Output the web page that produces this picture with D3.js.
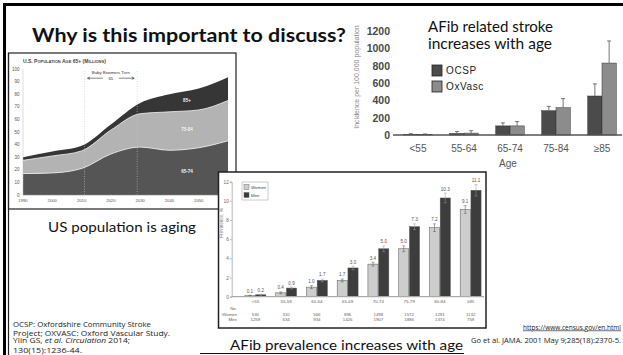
<!DOCTYPE html>
<html>
<head>
<meta charset="utf-8">
<script src="https://cdn.jsdelivr.net/npm/d3@7"></script>
<style>
  body { margin: 0; background: #fff; }
  svg { display: block; }
</style>
</head>
<body>
<svg id="slide" width="623" height="355"></svg>
<script>
// ---- US population 65+ (millions), stacked by age band ----
const popYears = [1990, 2000, 2010, 2020, 2030, 2040, 2050, 2060];
const pop65to74 = [17, 17.5, 21, 32.5, 38, 35.5, 37.5, 43];
const pop75to84 = [10.5, 13.5, 14, 19, 26.5, 30.5, 30, 32];
const pop85plus = [2.5, 3.5, 4, 4.5, 8.5, 14, 17, 18.5];
const popValueTicks = [0, 10, 20, 30, 40, 50, 60, 70, 80, 90, 100];
const popYearTicks = [1990, 2000, 2010, 2020, 2030, 2040, 2050];
const popBandLabels = ["65-74", "75-84", "85+"];

// ---- AF-related stroke incidence per 100,000 ----
const strokeAges = ["<55", "55-64", "65-74", "75-84", "\u226585"];
const ocspIncidence = [8, 18, 105, 280, 450];
const ocspUpper = [15, 40, 140, 330, 590];
const oxvascIncidence = [5, 22, 105, 315, 830];
const oxvascUpper = [12, 50, 155, 420, 1085];
const strokeTicks = [0, 200, 400, 600, 800, 1000, 1200];
const strokeSeries = ["OCSP", "OxVasc"];

// ---- AF prevalence (%) by age and sex ----
const afAges = ["<55", "55-59", "60-64", "65-69", "70-74", "75-79", "80-84", "\u226585"];
const womenPrev = [0.1, 0.4, 1.0, 1.7, 3.4, 5.0, 7.2, 9.1];
const menPrev = [0.2, 0.9, 1.7, 3.0, 5.0, 7.3, 10.3, 11.1];
const womenErr = [0.05, 0.1, 0.15, 0.15, 0.2, 0.3, 0.4, 0.4];
const menErr = [0.05, 0.1, 0.15, 0.2, 0.3, 0.3, 0.5, 0.6];
const womenN = [530, 310, 566, 896, 1498, 1572, 1291, 1132];
const menN = [1259, 634, 934, 1426, 1907, 1886, 1374, 759];
const prevTicks = [0, 2, 4, 6, 8, 10, 12];
const prevSeries = ["Women", "Men"];

const svg = d3.select("#slide");
const SLIDE_FONT = "Lato, 'Open Sans', sans-serif";
const SMALL_FONT = "'Liberation Sans', Arial, sans-serif";

// ---------- slide frame ----------
svg.append("line").attr("x1", 3).attr("x2", 623).attr("y1", 4.5).attr("y2", 4.5)
  .attr("stroke", "#000").attr("stroke-width", 3);
svg.append("line").attr("x1", 4.5).attr("x2", 4.5).attr("y1", 3).attr("y2", 355)
  .attr("stroke", "#000").attr("stroke-width", 3);

svg.append("text").attr("x", 32).attr("y", 42)
  .attr("font-family", SLIDE_FONT).attr("font-weight", 700).attr("font-size", 18.5)
  .attr("textLength", 314).attr("lengthAdjust", "spacingAndGlyphs")
  .attr("fill", "#111").text("Why is this important to discuss?");

// ---------- population chart ----------
const pop = svg.append("g");
svg.append("line").attr("x1", 8.5).attr("x2", 8.5).attr("y1", 53).attr("y2", 355)
  .attr("stroke", "#222").attr("stroke-width", 1.2);
pop.append("rect").attr("x", 8.5).attr("y", 53).attr("width", 227.5).attr("height", 156)
  .attr("fill", "#fff").attr("stroke", "#222").attr("stroke-width", 1.2);

const px = d3.scaleLinear().domain([1990, 2060]).range([23, 228]);
const py = d3.scaleLinear().domain([0, 100]).range([195, 69]);

const popRows = popYears.map((year, i) => ({
  year, a: pop65to74[i], b: pop75to84[i], c: pop85plus[i]
}));
const stacked = d3.stack().keys(["a", "b", "c"])(popRows);
const popColors = ["#555555", "#b3b3b3", "#363636"];
const area = d3.area()
  .x(d => px(d.data.year)).y0(d => py(d[0])).y1(d => py(d[1]))
  .curve(d3.curveMonotoneX);
pop.selectAll("path.band").data(stacked).join("path")
  .attr("class", "band").attr("d", area)
  .attr("fill", (d, i) => popColors[i]);
const edge = d3.line().x(d => px(d.data.year)).y(d => py(d[1])).curve(d3.curveMonotoneX);
pop.selectAll("path.edge").data(stacked.slice(0, 2)).join("path")
  .attr("class", "edge").attr("d", edge)
  .attr("fill", "none").attr("stroke", "#eee").attr("stroke-width", 0.8);

// axes
pop.append("line").attr("x1", px(1990)).attr("x2", px(2060)).attr("y1", py(0)).attr("y2", py(0))
  .attr("stroke", "#888").attr("stroke-width", 0.6);
pop.append("line").attr("x1", px(1990)).attr("x2", px(1990)).attr("y1", py(0)).attr("y2", py(100))
  .attr("stroke", "#bbb").attr("stroke-width", 0.5);
pop.selectAll("text.ytick").data(popValueTicks).join("text")
  .attr("class", "ytick").attr("x", 19.5).attr("y", d => py(d) + 1.5)
  .attr("text-anchor", "end").attr("font-family", SMALL_FONT).attr("font-size", 4.5)
  .attr("fill", "#555").text(d => d);
pop.selectAll("text.xtick").data(popYearTicks).join("text")
  .attr("class", "xtick").attr("x", d => px(d)).attr("y", 201.5)
  .attr("text-anchor", "middle").attr("font-family", SMALL_FONT).attr("font-size", 4.2)
  .attr("fill", "#555").text(d => d);

// boomer window
[2011, 2029].forEach(yr => {
  pop.append("line").attr("x1", px(yr)).attr("x2", px(yr)).attr("y1", 71).attr("y2", py(0))
    .attr("stroke", "#c8c8c8").attr("stroke-width", 0.6).attr("stroke-dasharray", "1,1.5");
});
const midX = (px(2011) + px(2029)) / 2;
pop.append("text").attr("x", midX).attr("y", 73.5).attr("text-anchor", "middle")
  .attr("font-family", SMALL_FONT).attr("font-size", 4.3).attr("fill", "#333")
  .text("Baby Boomers Turn");
pop.append("text").attr("x", midX).attr("y", 80).attr("text-anchor", "middle")
  .attr("font-family", SMALL_FONT).attr("font-size", 4.3).attr("fill", "#333").text("65");
const arrowY = 78.2;
pop.append("path")
  .attr("d", `M${midX - 8},${arrowY}H${px(2011) + 3}M${px(2011) + 5.5},${arrowY - 1.3}L${px(2011) + 3},${arrowY}L${px(2011) + 5.5},${arrowY + 1.3}`)
  .attr("fill", "none").attr("stroke", "#333").attr("stroke-width", 0.6);
pop.append("path")
  .attr("d", `M${midX + 8},${arrowY}H${px(2029) - 3}M${px(2029) - 5.5},${arrowY - 1.3}L${px(2029) - 3},${arrowY}L${px(2029) - 5.5},${arrowY + 1.3}`)
  .attr("fill", "none").attr("stroke", "#333").attr("stroke-width", 0.6);

// band labels placed at mid-band, 2046
const labelYear = 2046;
const li = popYears.findIndex(y => y > labelYear) - 1;
const t = (labelYear - popYears[li]) / (popYears[li + 1] - popYears[li]);
stacked.forEach((s, i) => {
  const lo = s[li][0] + (s[li + 1][0] - s[li][0]) * t;
  const hi = s[li][1] + (s[li + 1][1] - s[li][1]) * t;
  pop.append("text").attr("x", px(labelYear)).attr("y", py((lo + hi) / 2) + 1.6)
    .attr("text-anchor", "middle").attr("font-family", SMALL_FONT).attr("font-size", 4.6)
    .attr("font-weight", 700).attr("fill", "#f2f2f2").text(popBandLabels[i]);
});

pop.append("text").attr("x", 23).attr("y", 62.5)
  .attr("font-family", SMALL_FONT).attr("font-size", 5).attr("font-weight", 700)
  .attr("font-variant", "small-caps").attr("fill", "#444")
  .text("U.S. Population Age 65+ (Millions)");

svg.append("text").attr("x", 48).attr("y", 232)
  .attr("font-family", SLIDE_FONT).attr("font-size", 14)
  .attr("textLength", 148).attr("lengthAdjust", "spacingAndGlyphs")
  .attr("fill", "#111").text("US population is aging");

// ---------- stroke incidence chart ----------
const st = svg.append("g");
const sx = d3.scaleBand().domain(strokeAges).range([395, 625]).paddingInner(0.38).paddingOuter(0.19);
const sxs = d3.scaleBand().domain(strokeSeries).range([0, sx.bandwidth()]).padding(0);
const sy = d3.scaleLinear().domain([0, 1200]).range([135, 31]);
const strokeColors = { OCSP: "#4b4b4b", OxVasc: "#8c8c8c" };
const strokeRows = strokeAges.map((age, i) => ({
  age,
  vals: [
    { key: "OCSP", v: ocspIncidence[i], hi: ocspUpper[i] },
    { key: "OxVasc", v: oxvascIncidence[i], hi: oxvascUpper[i] }
  ]
}));
const sg = st.selectAll("g.grp").data(strokeRows).join("g")
  .attr("transform", d => `translate(${sx(d.age)},0)`);
sg.selectAll("rect").data(d => d.vals).join("rect")
  .attr("x", d => sxs(d.key)).attr("width", sxs.bandwidth())
  .attr("y", d => sy(d.v)).attr("height", d => sy(0) - sy(d.v))
  .attr("fill", d => strokeColors[d.key]).attr("stroke", "#333").attr("stroke-width", 0.5);
sg.selectAll("path.err").data(d => d.vals).join("path")
  .attr("class", "err")
  .attr("d", d => {
    const cx = sxs(d.key) + sxs.bandwidth() / 2;
    return `M${cx},${sy(d.v)}V${sy(d.hi)}M${cx - 2},${sy(d.hi)}H${cx + 2}`;
  })
  .attr("fill", "none").attr("stroke", "#666").attr("stroke-width", 0.9);

st.append("line").attr("x1", 393).attr("x2", 622).attr("y1", sy(0)).attr("y2", sy(0))
  .attr("stroke", "#555").attr("stroke-width", 1.3);
const yAx = st.append("g").attr("transform", "translate(392,0)")
  .call(d3.axisLeft(sy).tickValues(strokeTicks).tickFormat(d3.format("d")).tickSize(0).tickPadding(2));
yAx.select(".domain").remove();
yAx.selectAll("text").attr("font-family", SMALL_FONT).attr("font-size", 10.5)
  .attr("font-weight", 700).attr("fill", "#4a4a4a");
const xAx = st.append("g").attr("transform", `translate(0,${sy(0)})`)
  .call(d3.axisBottom(sx).tickSize(0).tickPadding(10));
xAx.select(".domain").remove();
xAx.selectAll("text").attr("font-family", SMALL_FONT).attr("font-size", 10)
  .attr("fill", "#555");
st.append("text").attr("x", 508).attr("y", 167).attr("text-anchor", "middle")
  .attr("font-family", SMALL_FONT).attr("font-size", 10).attr("fill", "#555").text("Age");
st.append("text").attr("transform", "translate(359,77) rotate(-90)").attr("text-anchor", "middle")
  .attr("font-family", SMALL_FONT).attr("font-size", 7).attr("fill", "#888")
  .text("Incidence per 100,000 population");

st.append("text").attr("x", 428).attr("y", 31.5)
  .attr("font-family", SLIDE_FONT).attr("font-size", 15)
  .attr("textLength", 125).attr("lengthAdjust", "spacingAndGlyphs")
  .attr("fill", "#111").text("AFib related stroke");
st.append("text").attr("x", 428).attr("y", 49)
  .attr("font-family", SLIDE_FONT).attr("font-size", 15)
  .attr("textLength", 124).attr("lengthAdjust", "spacingAndGlyphs")
  .attr("fill", "#111").text("increases with age");

const sLeg = st.selectAll("g.leg").data(strokeSeries).join("g")
  .attr("transform", (d, i) => `translate(432,${65 + i * 16})`);
sLeg.append("rect").attr("width", 10).attr("height", 11)
  .attr("fill", d => strokeColors[d]).attr("stroke", "#222").attr("stroke-width", 0.8);
sLeg.append("text").attr("x", 14).attr("y", 9).attr("font-family", SMALL_FONT)
  .attr("font-size", 10).attr("letter-spacing", 0.6).attr("fill", "#222").text(d => d);

// ---------- AF prevalence chart ----------
const pv = svg.append("g");
pv.append("rect").attr("x", 218.5).attr("y", 172).attr("width", 267.5).attr("height", 156)
  .attr("fill", "#fff").attr("stroke", "#222").attr("stroke-width", 1.5);
const vx = d3.scaleBand().domain(afAges).range([240, 486]).paddingInner(0.32).paddingOuter(0.16);
const vxs = d3.scaleBand().domain(prevSeries).range([0, vx.bandwidth()]).paddingInner(0.06);
const vy = d3.scaleLinear().domain([0, 12]).range([296.7, 181.7]);
const prevColors = { Women: "#cdcdcd", Men: "#3d3d3d" };
const prevRows = afAges.map((age, i) => ({
  age,
  vals: [
    { key: "Women", v: womenPrev[i], e: womenErr[i] },
    { key: "Men", v: menPrev[i], e: menErr[i] }
  ]
}));

const vyAx = pv.append("g").attr("transform", "translate(231.7,0)")
  .call(d3.axisLeft(vy).tickValues(prevTicks).tickSize(1.8).tickPadding(1.2));
vyAx.select(".domain").attr("stroke", "#888").attr("stroke-width", 0.6);
vyAx.selectAll("line").attr("stroke", "#888").attr("stroke-width", 0.6);
vyAx.selectAll("text").attr("font-family", SMALL_FONT).attr("font-size", 4.6).attr("fill", "#666");
pv.append("text").attr("transform", "translate(222.5,223) rotate(-90)").attr("text-anchor", "middle")
  .attr("font-family", SMALL_FONT).attr("font-size", 4.6).attr("fill", "#777").text("Prevalence, %");

const vg = pv.selectAll("g.grp").data(prevRows).join("g")
  .attr("transform", d => `translate(${vx(d.age)},0)`);
vg.selectAll("rect").data(d => d.vals).join("rect")
  .attr("x", d => vxs(d.key)).attr("width", vxs.bandwidth())
  .attr("y", d => vy(d.v)).attr("height", d => vy(0) - vy(d.v))
  .attr("fill", d => prevColors[d.key]).attr("stroke", "#555").attr("stroke-width", 0.5);
vg.selectAll("path.err").data(d => d.vals).join("path")
  .attr("class", "err")
  .attr("d", d => {
    const cx = vxs(d.key) + vxs.bandwidth() / 2;
    return `M${cx},${vy(d.v - d.e)}V${vy(d.v + d.e)}M${cx - 1.5},${vy(d.v + d.e)}H${cx + 1.5}M${cx - 1.5},${vy(d.v - d.e)}H${cx + 1.5}`;
  })
  .attr("fill", "none").attr("stroke", d => d.key === "Men" ? "#999" : "#555").attr("stroke-width", 0.5);
vg.selectAll("text.val").data(d => d.vals).join("text")
  .attr("class", "val")
  .attr("x", d => vxs(d.key) + vxs.bandwidth() / 2).attr("y", d => vy(d.v + d.e) - 2.5)
  .attr("text-anchor", "middle").attr("font-family", SMALL_FONT).attr("font-size", 4.6)
  .attr("fill", "#555").text(d => d.v.toFixed(1));

pv.append("line").attr("x1", 231.7).attr("x2", 484).attr("y1", vy(0)).attr("y2", vy(0))
  .attr("stroke", "#aaa").attr("stroke-width", 1.2);
pv.selectAll("text.cat").data(afAges).join("text")
  .attr("class", "cat").attr("x", d => vx(d) + vx.bandwidth() / 2).attr("y", 303)
  .attr("text-anchor", "middle").attr("font-family", SMALL_FONT).attr("font-size", 4.4)
  .attr("fill", "#666").text(d => d);
const rowY = { "No.": 309.5, Women: 315.5, Men: 321 };
Object.entries(rowY).forEach(([k, y]) => {
  pv.append("text").attr("x", 237).attr("y", y).attr("text-anchor", "end")
    .attr("font-family", SMALL_FONT).attr("font-size", 4.4).attr("fill", "#666").text(k);
});
[[womenN, rowY.Women], [menN, rowY.Men]].forEach(([arr, y]) => {
  pv.selectAll(null).data(arr).join("text")
    .attr("x", (d, i) => vx(afAges[i]) + vx.bandwidth() / 2).attr("y", y)
    .attr("text-anchor", "middle").attr("font-family", SMALL_FONT).attr("font-size", 4.4)
    .attr("fill", "#666").text(d => d);
});

const pLeg = pv.append("g").attr("transform", "translate(242,182)");
pLeg.append("rect").attr("width", 26).attr("height", 18).attr("fill", "#fff")
  .attr("stroke", "#999").attr("stroke-width", 0.5);
pLeg.selectAll("g").data(prevSeries).join("g")
  .attr("transform", (d, i) => `translate(2,${2.5 + i * 8})`)
  .call(g => {
    g.append("rect").attr("width", 5).attr("height", 5)
      .attr("fill", d => prevColors[d]).attr("stroke", "#555").attr("stroke-width", 0.4);
    g.append("text").attr("x", 7).attr("y", 4.3).attr("font-family", SMALL_FONT)
      .attr("font-size", 4.4).attr("fill", "#444").text(d => d);
  });

svg.append("text").attr("x", 230).attr("y", 349.5)
  .attr("font-family", SLIDE_FONT).attr("font-size", 14)
  .attr("textLength", 233).attr("lengthAdjust", "spacingAndGlyphs")
  .attr("fill", "#111").text("AFib prevalence increases with age");
svg.append("line").attr("x1", 200).attr("x2", 464).attr("y1", 353.5).attr("y2", 353.5)
  .attr("stroke", "#111").attr("stroke-width", 1.2);

// ---------- references ----------
const foot = [
  { y: 326.5, len: 138, parts: [["OCSP: Oxfordshire Community Stroke", false]] },
  { y: 335.5, len: 157, parts: [["Project; OXVASC: Oxford Vascular Study.", false]] },
  { y: 343, len: 117, parts: [["Yiin GS, ", false], ["et al. Circulation", true], [" 2014;", false]] },
  { y: 353, len: 69, parts: [["130(15):1236-44.", false]] }
];
foot.forEach(f => {
  const tx = svg.append("text").attr("x", 13).attr("y", f.y)
    .attr("font-family", "'Open Sans', sans-serif").attr("font-size", 7)
    .attr("textLength", f.len).attr("lengthAdjust", "spacingAndGlyphs").attr("fill", "#222");
  f.parts.forEach(([s, it]) => tx.append("tspan").attr("font-style", it ? "italic" : "normal").text(s));
});

svg.append("text").attr("x", 621).attr("y", 329.5).attr("text-anchor", "end")
  .attr("font-family", "'Open Sans', sans-serif").attr("font-size", 6.5)
  .attr("text-decoration", "underline").attr("fill", "#222")
  .text("https://www.census.gov/en.html");
svg.append("text").attr("x", 621).attr("y", 342.5).attr("text-anchor", "end")
  .attr("font-family", "'Open Sans', sans-serif").attr("font-size", 7)
  .attr("textLength", 150).attr("lengthAdjust", "spacingAndGlyphs")
  .attr("fill", "#222").text("Go et al. JAMA. 2001 May 9;285(18):2370-5.");
</script>
</body>
</html>
